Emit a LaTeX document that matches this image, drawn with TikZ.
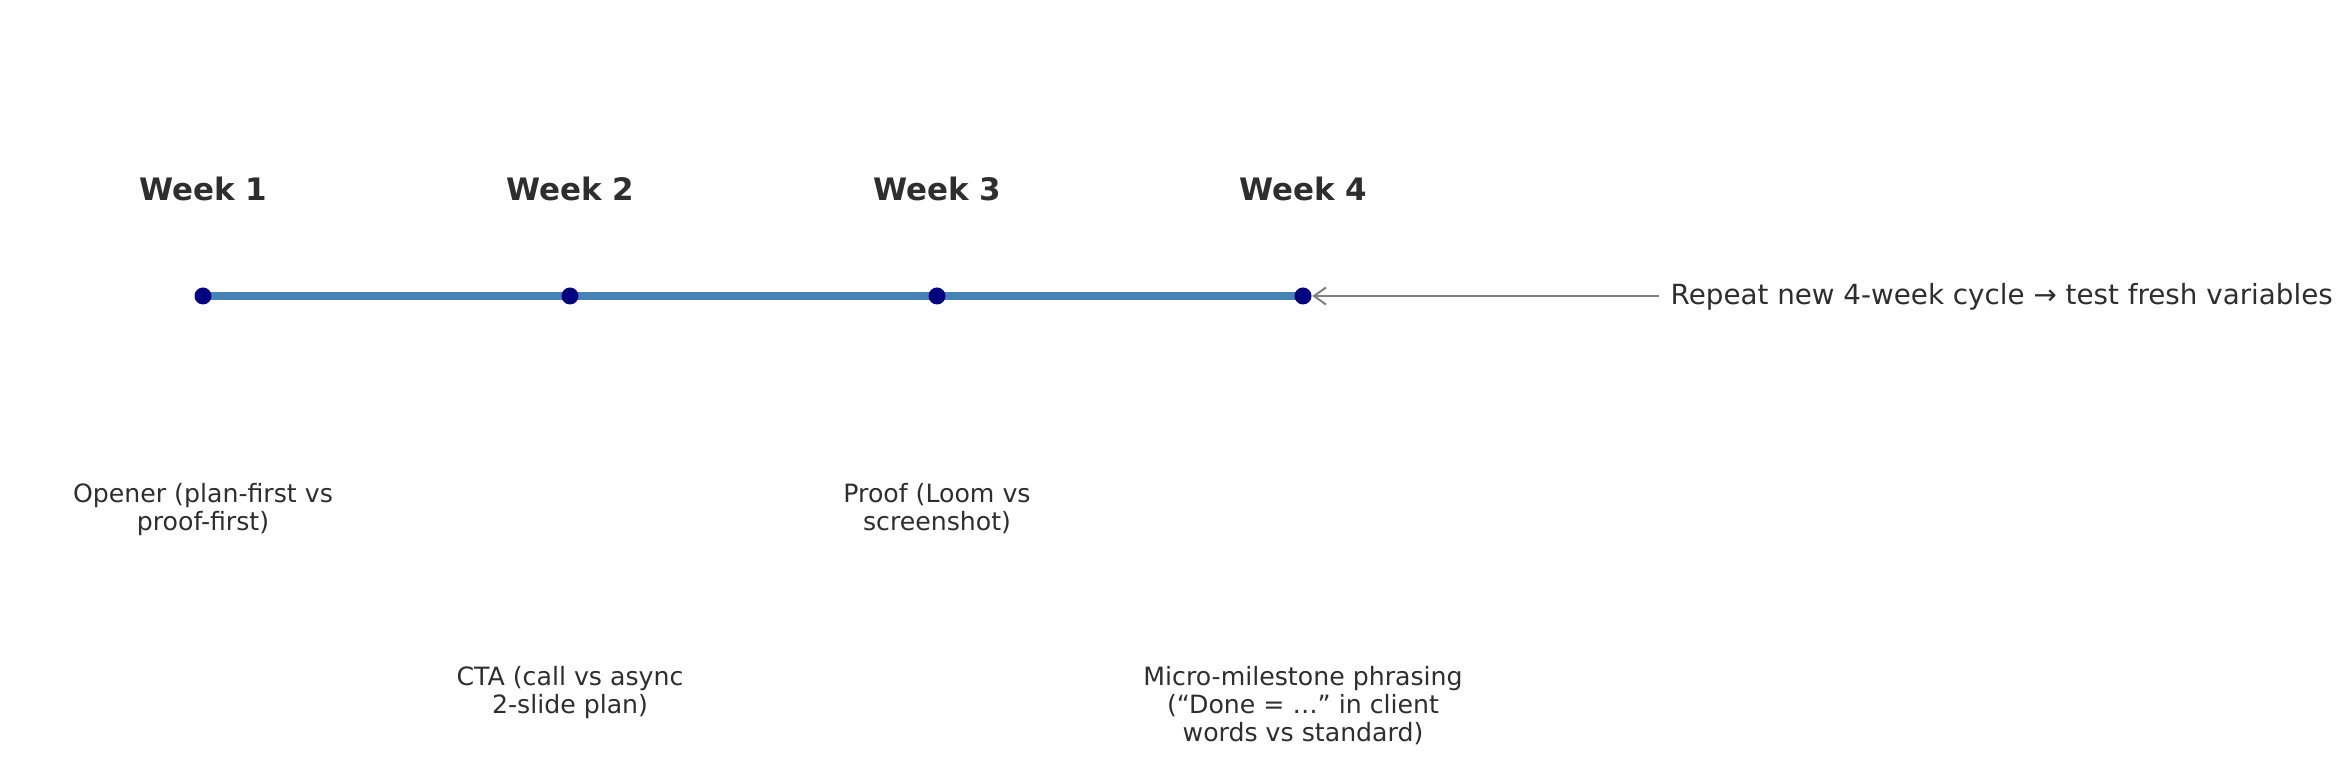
\documentclass[tikz,border=0pt]{standalone}
\usepackage{fontspec}
\setmainfont{DejaVu Sans}
\usetikzlibrary{arrows.meta}
\definecolor{txt}{HTML}{2E2E2E}
\definecolor{steel}{HTML}{4682B4}
\definecolor{navyblue}{HTML}{000080}
\definecolor{arrowgray}{HTML}{808080}
\begin{document}
\begin{tikzpicture}[
    week/.style={anchor=base, inner sep=0pt, text=txt, font=\fontsize{8.8}{10.6}\selectfont\bfseries},
    task/.style={anchor=north, inner sep=0pt, text=txt, align=center, font=\fontsize{7.17}{7.97}\selectfont},
    dot/.style={circle, fill=navyblue, inner sep=0pt, minimum size=0.17cm}
  ]
            \useasboundingbox (0,0) rectangle (23.51,7.77);
            \node (W1) at (2.03,5.76) [week] {Week 1};
            \node (W2) at (5.70,5.76) [week] {Week 2};
            \node (W3) at (9.37,5.76) [week] {Week 3};
            \node (W4) at (13.03,5.76) [week] {Week 4};
            \draw [steel, line width=2.5pt] (2.03,4.81) -- (13.03,4.81);
            \node (A) at (2.03,4.81) [dot] {};
            \node (B) at (5.70,4.81) [dot] {};
            \node (C) at (9.37,4.81) [dot] {};
            \node (D) at (13.03,4.81) [dot] {};
            \node (T1) at (2.03,2.94) [task] {Opener (plan-first vs\\proof-first)};
            \node (T2) at (5.70,1.11) [task] {CTA (call vs async\\2-slide plan)};
            \node (T3) at (9.37,2.94) [task] {Proof (Loom vs\\screenshot)};
            \node (T4) at (13.03,1.11) [task] {Micro-milestone phrasing\\(“Done = …” in client\\words vs standard)};
            \node (R) at (16.70,4.72) [anchor=base west, inner sep=0pt, text=txt, font=\fontsize{7.9}{9.5}\selectfont] {Repeat new 4-week cycle → test fresh variables};
            \coordinate (Rtail) at (16.59,4.81);
            \draw [->, >={Straight Barb[length=0.12cm,width=0.17cm]}, arrowgray, line width=0.57pt] (Rtail) -- (D);
        \end{tikzpicture}
\end{document}
